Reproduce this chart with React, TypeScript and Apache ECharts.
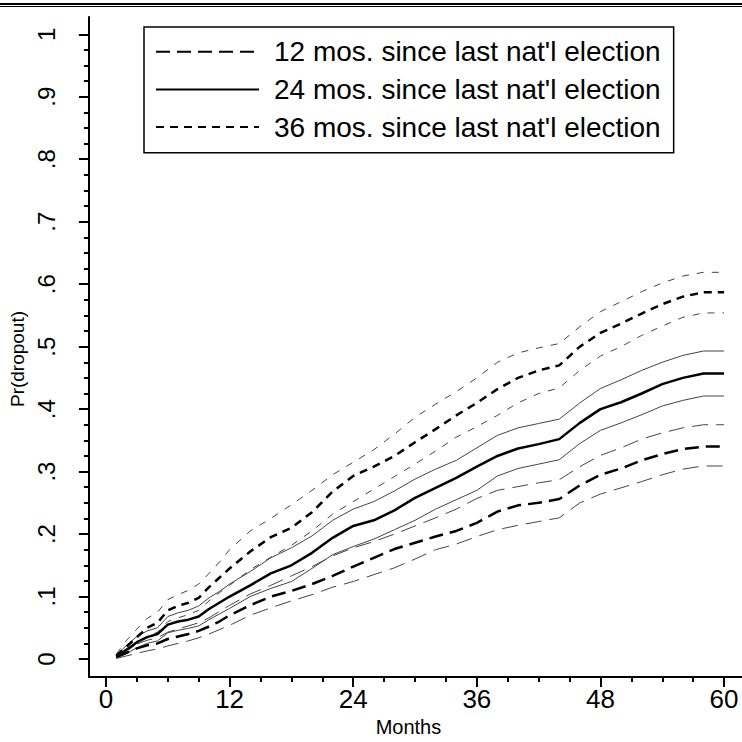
import React, { useEffect, useRef } from 'react';
import * as echarts from 'echarts';

const months = [1, 2, 3, 4, 5, 6, 7, 8, 9, 10, 11, 12, 14, 16, 18, 20, 22, 24, 26, 28, 30, 32, 34, 36, 38, 40, 42, 44, 46, 48, 50, 52, 54, 56, 58, 60];

const mid12 = [0.003, 0.010, 0.017, 0.022, 0.025, 0.032, 0.036, 0.040, 0.045, 0.052, 0.060, 0.070, 0.086, 0.100, 0.109, 0.120, 0.133, 0.148, 0.162, 0.176, 0.186, 0.196, 0.205, 0.218, 0.236, 0.246, 0.250, 0.256, 0.278, 0.295, 0.305, 0.318, 0.328, 0.336, 0.340, 0.340];
const hi12 = [0.005, 0.015, 0.024, 0.030, 0.034, 0.043, 0.048, 0.053, 0.058, 0.066, 0.076, 0.086, 0.104, 0.118, 0.133, 0.148, 0.165, 0.178, 0.188, 0.200, 0.213, 0.226, 0.240, 0.257, 0.270, 0.276, 0.282, 0.287, 0.308, 0.326, 0.338, 0.352, 0.362, 0.370, 0.375, 0.375];
const lo12 = [0.001, 0.005, 0.009, 0.013, 0.016, 0.021, 0.025, 0.029, 0.034, 0.040, 0.047, 0.054, 0.070, 0.082, 0.093, 0.103, 0.115, 0.124, 0.135, 0.146, 0.160, 0.175, 0.184, 0.196, 0.207, 0.214, 0.220, 0.226, 0.250, 0.264, 0.274, 0.284, 0.295, 0.304, 0.309, 0.309];

const mid24 = [0.004, 0.015, 0.027, 0.035, 0.040, 0.055, 0.060, 0.063, 0.068, 0.080, 0.090, 0.100, 0.118, 0.137, 0.150, 0.170, 0.194, 0.213, 0.222, 0.238, 0.258, 0.274, 0.290, 0.308, 0.325, 0.337, 0.344, 0.352, 0.378, 0.400, 0.411, 0.425, 0.440, 0.450, 0.457, 0.457];
const hi24 = [0.006, 0.022, 0.036, 0.045, 0.050, 0.068, 0.074, 0.078, 0.085, 0.098, 0.108, 0.120, 0.140, 0.162, 0.178, 0.197, 0.222, 0.240, 0.252, 0.269, 0.288, 0.304, 0.318, 0.338, 0.358, 0.370, 0.377, 0.384, 0.410, 0.433, 0.447, 0.462, 0.475, 0.486, 0.493, 0.493];
const lo24 = [0.002, 0.009, 0.018, 0.025, 0.029, 0.042, 0.046, 0.049, 0.053, 0.063, 0.072, 0.081, 0.100, 0.113, 0.124, 0.145, 0.167, 0.180, 0.192, 0.207, 0.222, 0.240, 0.255, 0.270, 0.293, 0.305, 0.312, 0.319, 0.345, 0.366, 0.378, 0.391, 0.405, 0.414, 0.421, 0.421];

const mid36 = [0.005, 0.020, 0.035, 0.050, 0.058, 0.078, 0.085, 0.090, 0.098, 0.115, 0.130, 0.145, 0.172, 0.195, 0.210, 0.235, 0.268, 0.293, 0.308, 0.325, 0.347, 0.368, 0.390, 0.410, 0.432, 0.450, 0.462, 0.470, 0.500, 0.522, 0.537, 0.553, 0.568, 0.580, 0.587, 0.587];
const hi36 = [0.008, 0.030, 0.048, 0.065, 0.075, 0.095, 0.103, 0.110, 0.120, 0.137, 0.155, 0.175, 0.205, 0.225, 0.247, 0.270, 0.295, 0.315, 0.335, 0.360, 0.387, 0.408, 0.428, 0.450, 0.475, 0.490, 0.498, 0.505, 0.532, 0.556, 0.572, 0.588, 0.602, 0.613, 0.619, 0.619];
const lo36 = [0.003, 0.012, 0.025, 0.036, 0.043, 0.060, 0.066, 0.071, 0.078, 0.093, 0.106, 0.118, 0.143, 0.163, 0.182, 0.205, 0.232, 0.252, 0.272, 0.292, 0.312, 0.333, 0.355, 0.372, 0.390, 0.410, 0.425, 0.434, 0.462, 0.485, 0.500, 0.518, 0.533, 0.547, 0.554, 0.554];

const legendNames = [
  "12 mos. since last nat'l election",
  "24 mos. since last nat'l election",
  "36 mos. since last nat'l election",
];

const xMajorTicks = [0, 12, 24, 36, 48, 60];
const xMinorTicks = [3, 6, 9, 15, 18, 21, 27, 30, 33, 39, 42, 45, 51, 54, 57];
const yMajorTicks = [0, 0.1, 0.2, 0.3, 0.4, 0.5, 0.6, 0.7, 0.8, 0.9, 1];
const yMinorTicks = [0.025, 0.05, 0.075, 0.125, 0.15, 0.175, 0.225, 0.25, 0.275, 0.325, 0.35, 0.375, 0.425, 0.45, 0.475, 0.525, 0.55, 0.575, 0.625, 0.65, 0.675, 0.725, 0.75, 0.775, 0.825, 0.85, 0.875, 0.925, 0.95, 0.975];

const xTitle = 'Months';
const yTitle = 'Pr(dropout)';

// axis range padded so that axis lines meet at the corner like in the original plot region
const xMin = -1.66;
const xMax = 61.74;
const yMin = -0.0288;
const yMax = 1.0277;

export default function App() {
  const ref = useRef<HTMLDivElement>(null);
  useEffect(() => {
    document.body.style.margin = '0';
    const chart = echarts.init(ref.current!, null, { renderer: 'svg' });
    const font = 'Liberation Sans, Arial, sans-serif';
    const pair = (vals: number[]) => months.map((m, i) => [m, vals[i]]);
    const ci = (name: string, vals: number[], type: any) => ({
      type: 'line',
      name,
      data: pair(vals),
      symbol: 'none',
      silent: true,
      color: '#444',
      lineStyle: { color: '#444', width: 1, type },
    });
    const mid = (name: string, vals: number[], type: any) => ({
      type: 'line',
      name,
      data: pair(vals),
      symbol: 'none',
      color: '#000',
      lineStyle: { color: '#000', width: 2.5, type },
    });
    const dash12 = [14, 7];
    const dash12ci = [16, 8];
    const dash36 = [8, 6];
    const dash36ci = [7, 8];
    const fmtY = (v: number) => (v === 0 ? '0' : v === 1 ? '1' : '.' + Math.round(v * 10));
    chart.setOption({
      animation: false,
      textStyle: { fontFamily: font },
      grid: { left: 82, right: 0, top: 17, bottom: 65, containLabel: false },
      xAxis: [
        {
          type: 'value',
          min: xMin,
          max: xMax,
          position: 'bottom',
          axisLine: { show: true, onZero: false, lineStyle: { color: '#000', width: 2 } },
          axisTick: { show: true, length: 10, customValues: xMajorTicks, lineStyle: { color: '#000', width: 2 } },
          splitLine: { show: false },
          axisLabel: { color: '#000', fontSize: 26, margin: 9, fontFamily: font, customValues: xMajorTicks },
          name: xTitle,
          nameLocation: 'middle',
          nameGap: 40,
          nameTextStyle: { color: '#000', fontSize: 20, fontFamily: font, padding: [0, 14, 0, 0] },
        },
        {
          type: 'value',
          min: xMin,
          max: xMax,
          position: 'bottom',
          axisLine: { show: false, onZero: false },
          axisTick: { show: true, length: 5, customValues: xMinorTicks, lineStyle: { color: '#000', width: 2 } },
          splitLine: { show: false },
          axisLabel: { show: false },
        },
      ],
      yAxis: [
        {
          type: 'value',
          min: yMin,
          max: yMax,
          position: 'left',
          axisLine: { show: true, onZero: false, lineStyle: { color: '#000', width: 2 } },
          axisTick: { show: true, length: 10, customValues: yMajorTicks, lineStyle: { color: '#000', width: 2 } },
          splitLine: { show: false },
          axisLabel: {
            color: '#000',
            fontSize: 24,
            rotate: 90,
            margin: 30,
            fontFamily: font,
            customValues: yMajorTicks,
            formatter: fmtY,
          },
          name: yTitle,
          nameLocation: 'middle',
          nameGap: 38,
          nameTextStyle: { color: '#000', fontSize: 19, fontFamily: font, padding: [0, 24, 0, 0] },
        },
        {
          type: 'value',
          min: yMin,
          max: yMax,
          position: 'left',
          axisLine: { show: false, onZero: false },
          axisTick: { show: true, length: 5, customValues: yMinorTicks, lineStyle: { color: '#000', width: 2 } },
          splitLine: { show: false },
          axisLabel: { show: false },
        },
      ],
      legend: {
        data: legendNames,
        orient: 'vertical',
        left: 144,
        top: 27,
        itemWidth: 103,
        itemHeight: 28,
        itemGap: 9.7,
        padding: [10.7, 13, 11.7, 11],
        borderColor: '#000',
        borderWidth: 1.5,
        backgroundColor: '#fff',
        selectedMode: false,
        itemStyle: { opacity: 0 },
        lineStyle: { width: 2 },
        textStyle: { color: '#000', fontSize: 28, fontFamily: font, padding: [0, 0, 0, 10] },
      },
      graphic: [
        { type: 'rect', shape: { x: 0, y: 3, width: 742, height: 2 }, style: { fill: '#000' } },
        { type: 'rect', shape: { x: 0, y: 6, width: 742, height: 1 }, style: { fill: '#000' } },
      ],
      series: [
        ci('hi12', hi12, dash12ci),
        ci('lo12', lo12, dash12ci),
        ci('hi24', hi24, 'solid'),
        ci('lo24', lo24, 'solid'),
        ci('hi36', hi36, dash36ci),
        ci('lo36', lo36, dash36ci),
        mid(legendNames[0], mid12, dash12),
        mid(legendNames[1], mid24, 'solid'),
        mid(legendNames[2], mid36, dash36),
      ],
    });
    return () => chart.dispose();
  }, []);
  return <div ref={ref} style={{ width: 742, height: 742 }} />;
}
